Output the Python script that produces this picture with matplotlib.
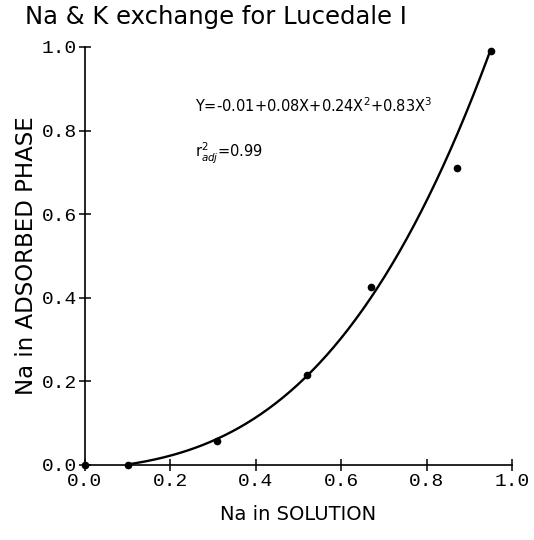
import numpy as np
import matplotlib.pyplot as plt

na_solution = [0.0, 0.10, 0.31, 0.52, 0.67, 0.87, 0.95]
na_adsorbed = [0.0, 0.0, 0.057, 0.215, 0.425, 0.71, 0.99]

# fitted cubic shown on the chart (highest power first)
fit_coefs = [0.83, 0.24, 0.08, -0.01]
fit_range = [0.10, 0.95]

xticks = [0.0, 0.2, 0.4, 0.6, 0.8, 1.0]
yticks = [0.0, 0.2, 0.4, 0.6, 0.8, 1.0]

mono = "Liberation Mono"
sans = "DejaVu Sans"
plt.rcParams["mathtext.fontset"] = "dejavusans"

fig = plt.figure(figsize=(5.34, 5.4), dpi=100)
ax = fig.add_axes([0.159, 0.139, 0.80, 0.774])

xs = np.linspace(fit_range[0], fit_range[1], 200)
ys = np.clip(np.polyval(fit_coefs, xs), 0, None)
ax.plot(xs, ys, color="black", linewidth=1.7, zorder=2)
ax.plot(na_solution, na_adsorbed, "o", color="black", markersize=4.5, zorder=3,
        clip_on=False)

ax.set_xlim(0, 1.0)
ax.set_ylim(0, 1.0)
ax.spines[["top", "right"]].set_visible(False)
ax.spines[["left", "bottom"]].set_linewidth(1.2)
ax.set_xticks(xticks)
ax.set_yticks(yticks)
ax.set_xticklabels([f"{v:.1f}" for v in xticks], fontfamily=mono, fontsize=14)
ax.set_yticklabels([f"{v:.1f}" for v in yticks], fontfamily=mono, fontsize=14)
ax.tick_params(direction="inout", length=9, width=1.1, pad=1)

ax.set_xlabel("Na in SOLUTION", fontsize=14, fontfamily=sans, labelpad=11)
ax.set_ylabel("Na in ADSORBED PHASE", fontsize=16.5, fontfamily=sans, labelpad=3)
fig.text(0.047, 0.947, "Na & K exchange for Lucedale I", fontsize=17.5,
         fontfamily=sans, ha="left", va="bottom")

ax.text(0.257, 0.845, r"Y=-0.01+0.08X+0.24X$^2$+0.83X$^3$", fontfamily=sans,
        fontsize=10.5, transform=ax.transAxes)
ax.text(0.257, 0.735, r"r$^2_{adj}$=0.99", fontfamily=sans,
        fontsize=10.5, transform=ax.transAxes)

fig.savefig("out.png", dpi=100)
